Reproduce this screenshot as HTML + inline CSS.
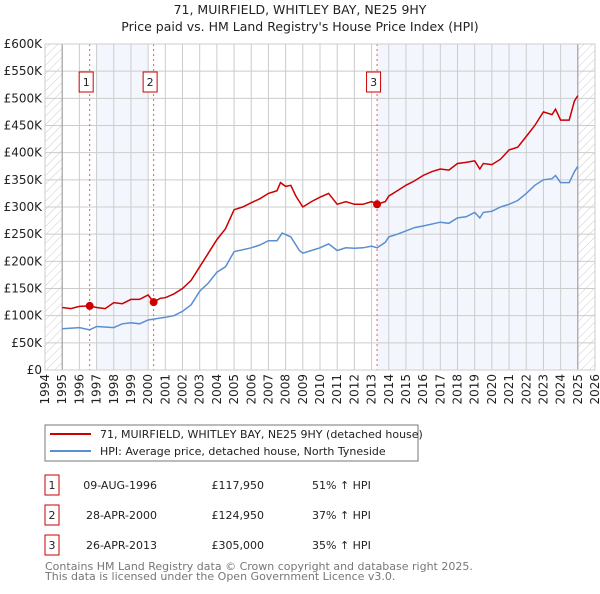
<!DOCTYPE html>
<html><head><meta charset="utf-8"><style>
body{margin:0;background:#fff;font-family:"DejaVu Sans","Liberation Sans",sans-serif;}
svg text{font-family:"DejaVu Sans","Liberation Sans",sans-serif;}
</style></head><body>
<svg id="c" width="600" height="590" xmlns="http://www.w3.org/2000/svg">
<defs><pattern id="hatch" width="6" height="6" patternUnits="userSpaceOnUse" patternTransform="rotate(45)"><line x1="0" y1="0" x2="0" y2="6" stroke="#ccc" stroke-width="1"/></pattern></defs>
<text x="300" y="14" text-anchor="middle" font-size="12.5" fill="#222">71, MUIRFIELD, WHITLEY BAY, NE25 9HY</text>
<text x="300" y="31" text-anchor="middle" font-size="12.5" fill="#222">Price paid vs. HM Land Registry's House Price Index (HPI)</text>
<g id="plot"></g>
<g>
<rect x="45" y="425" width="373" height="36" fill="#fff" stroke="#777"/>
<line x1="50" y1="434" x2="91" y2="434" stroke="#cc0000" stroke-width="2"/>
<text x="100" y="438" font-size="11" fill="#222">71, MUIRFIELD, WHITLEY BAY, NE25 9HY (detached house)</text>
<line x1="50" y1="451" x2="91" y2="451" stroke="#5b8fd0" stroke-width="2"/>
<text x="100" y="455" font-size="11" fill="#222">HPI: Average price, detached house, North Tyneside</text>
</g>
<g font-size="11" fill="#222">
<rect x="45" y="475" width="14" height="20" fill="#fff" stroke="#cc0000"/><text x="52" y="489" text-anchor="middle">1</text>
<text x="157" y="489" text-anchor="end">09-AUG-1996</text><text x="264" y="489" text-anchor="end">£117,950</text><text x="312" y="489">51% ↑ HPI</text>
<rect x="45" y="505" width="14" height="20" fill="#fff" stroke="#cc0000"/><text x="52" y="519" text-anchor="middle">2</text>
<text x="157" y="519" text-anchor="end">28-APR-2000</text><text x="264" y="519" text-anchor="end">£124,950</text><text x="312" y="519">37% ↑ HPI</text>
<rect x="45" y="535" width="14" height="20" fill="#fff" stroke="#cc0000"/><text x="52" y="549" text-anchor="middle">3</text>
<text x="157" y="549" text-anchor="end">26-APR-2013</text><text x="264" y="549" text-anchor="end">£305,000</text><text x="312" y="549">35% ↑ HPI</text>
</g>
<text x="45" y="570" font-size="11" fill="#777">Contains HM Land Registry data © Crown copyright and database right 2025.</text>
<text x="45" y="580" font-size="11" fill="#777">This data is licensed under the Open Government Licence v3.0.</text>
</svg>
<script>
const priceYears=[1995,1995.5,1996,1996.6,1997,1997.5,1998,1998.5,1999,1999.5,2000,2000.32,2000.7,2001,2001.5,2002,2002.5,2003,2003.5,2004,2004.5,2005,2005.5,2006,2006.5,2007,2007.5,2007.7,2008,2008.3,2008.6,2009,2009.5,2010,2010.5,2011,2011.5,2012,2012.5,2013,2013.32,2013.8,2014,2014.5,2015,2015.5,2016,2016.5,2017,2017.5,2018,2018.5,2019,2019.3,2019.5,2020,2020.5,2021,2021.5,2022,2022.5,2023,2023.5,2023.7,2024,2024.5,2024.8,2025];
const priceValues=[115,113,117,118,115,113,124,122,130,130,138,125,132,133,140,150,165,190,215,240,260,295,300,308,315,325,330,345,338,340,320,300,310,318,325,305,310,305,305,310,305,310,320,330,340,348,358,365,370,368,380,382,385,370,380,378,388,405,410,430,450,475,470,480,460,460,495,505];
const hpiYears=[1995,1996,1996.6,1997,1998,1998.5,1999,1999.5,2000,2001,2001.5,2002,2002.5,2003,2003.5,2004,2004.5,2005,2006,2006.5,2007,2007.5,2007.8,2008.3,2008.8,2009,2009.5,2010,2010.5,2011,2011.5,2012,2012.5,2013,2013.32,2013.8,2014,2014.5,2015,2015.5,2016,2017,2017.5,2018,2018.5,2019,2019.3,2019.5,2020,2020.5,2021,2021.5,2022,2022.5,2023,2023.5,2023.7,2024,2024.5,2024.8,2025];
const hpiValues=[76,78,74,80,78,85,87,85,92,97,100,108,120,145,160,180,190,218,225,230,238,238,252,245,220,215,220,225,232,220,225,224,225,228,225,235,245,250,256,262,265,272,270,280,282,290,280,290,292,300,305,312,325,340,350,352,358,345,345,365,375];
const saleYears=[1996.6,2000.32,2013.32];
const saleValues=[117.95,124.95,305];
const saleLabels=["1","2","3"];
const yTicks=[0,50,100,150,200,250,300,350,400,450,500,550,600];
const yTickLabels=["£0","£50K","£100K","£150K","£200K","£250K","£300K","£350K","£400K","£450K","£500K","£550K","£600K"];
const xTicks=[1994,1995,1996,1997,1998,1999,2000,2001,2002,2003,2004,2005,2006,2007,2008,2009,2010,2011,2012,2013,2014,2015,2016,2017,2018,2019,2020,2021,2022,2023,2024,2025,2026];

const L=45,R=595,T=44,B=370;
const X=y=>L+(y-1994)*(R-L)/32;
const Y=v=>B-v*(B-T)/600;
const NS="http://www.w3.org/2000/svg";
const g=document.getElementById('plot');
function mk(tag,attrs,name,parent){const e=document.createElementNS(NS,tag);for(const k in attrs)e.setAttribute(k,attrs[k]);


(parent||g).appendChild(e);return e;}
mk('rect',{x:L,y:T,width:R-L,height:B-T,fill:'#fff'},'plot-background');
mk('rect',{x:X(1997),y:T,width:X(2000)-X(1997),height:B-T,fill:'#eef3fc',opacity:0.7},'shade-band-1');
mk('rect',{x:X(2013.32),y:T,width:X(2025)-X(2013.32),height:B-T,fill:'#eef3fc',opacity:0.7},'shade-band-2');
mk('rect',{x:L,y:T,width:X(1995)-L,height:B-T,fill:'url(#hatch)'},'hatch-left');
mk('rect',{x:X(2025),y:T,width:R-X(2025),height:B-T,fill:'url(#hatch)'},'hatch-right');
yTicks.forEach((v,i)=>{
 mk('line',{x1:L,x2:R,y1:Y(v),y2:Y(v),stroke:'#ccc','stroke-width':1},'y-gridline');
 const t=mk('text',{x:L-3,y:Y(v)+4,'text-anchor':'end','font-size':12,fill:'#222'},'y-tick-label');t.textContent=yTickLabels[i];
});
xTicks.forEach(yr=>{
 mk('line',{x1:X(yr),x2:X(yr),y1:T,y2:B,stroke:'#ccc','stroke-width':1},'x-gridline');
 const t=mk('text',{x:0,y:0,'text-anchor':'end','font-size':12,fill:'#222',transform:`translate(${X(yr)+4},${B+4}) rotate(-90)`},'x-tick-label');t.textContent=yr;
});
mk('line',{x1:X(1995),x2:X(1995),y1:T,y2:B,stroke:'#999'},'data-start-line');
mk('line',{x1:X(2025),x2:X(2025),y1:T,y2:B,stroke:'#999'},'data-end-line');
saleYears.forEach((yr,i)=>{
 mk('line',{x1:X(yr),x2:X(yr),y1:T,y2:B,stroke:'#e06060','stroke-dasharray':'2,3'},'sale-marker-line');
 mk('rect',{x:X(yr)-10.5,y:T+28,width:14,height:20,fill:'#fff',stroke:'#cc0000'},'sale-label-box');
 const t=mk('text',{x:X(yr)-3.5,y:T+42,'text-anchor':'middle','font-size':11,fill:'#222'},'sale-label');t.textContent=saleLabels[i];
});
const pts=(xs,vs)=>xs.map((x,i)=>X(x).toFixed(1)+','+Y(vs[i]).toFixed(1)).join(' ');
mk('polyline',{points:pts(hpiYears,hpiValues),fill:'none',stroke:'#5b8fd0','stroke-width':1.5},'hpi-line');
mk('polyline',{points:pts(priceYears,priceValues),fill:'none',stroke:'#cc0000','stroke-width':1.5},'price-line');
saleYears.forEach((yr,i)=>mk('circle',{cx:X(yr),cy:Y(saleValues[i]),r:4,fill:'#cc0000'},'sale-point'));
mk('rect',{x:L,y:T,width:R-L,height:B-T,fill:'none',stroke:'#ccc'},'plot-border');
</script>
</body></html>
